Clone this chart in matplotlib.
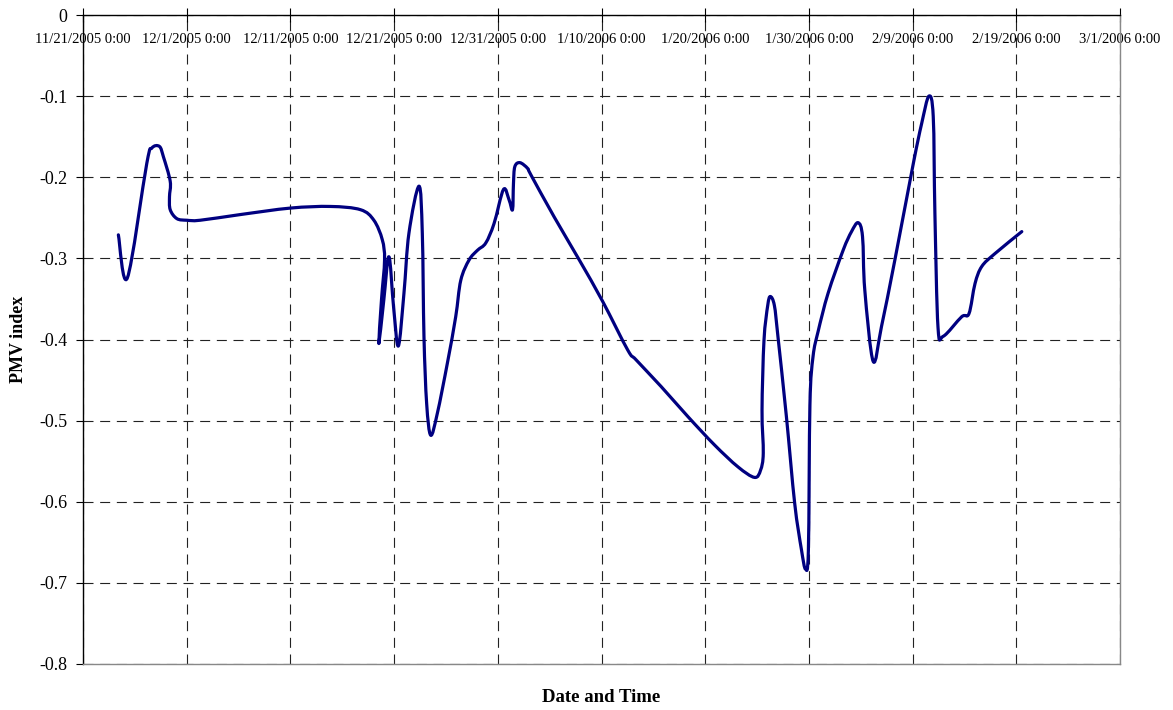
import matplotlib
matplotlib.use("Agg")
import matplotlib.pyplot as plt
import matplotlib.dates as mdates
from matplotlib.path import Path
from matplotlib.patches import PathPatch
from matplotlib.ticker import FuncFormatter
import numpy as np
import pandas as pd

plt.rcParams["font.family"] = ["Liberation Serif", "DejaVu Serif"]
plt.rcParams["axes.unicode_minus"] = False

START = "2005-11-21"
END = "2006-03-01"

# days after START
days = [3.41, 4.28, 6.15, 6.64, 7.37, 7.76, 8.41, 8.34, 8.41, 9.05, 10.02, 11.30,
        15.17, 20.00, 23.86, 26.76, 28.05, 28.86, 29.08, 28.79, 28.53, 29.01, 29.50,
        29.95, 30.41, 30.95, 31.43, 32.40, 32.72, 32.88, 33.14, 33.53, 34.17, 35.14,
        35.94, 36.43, 37.23, 38.04, 38.84, 39.64, 40.55, 41.09, 41.42, 41.51, 41.64,
        42.13, 42.87, 43.19, 45.44, 47.86, 50.11, 52.53, 53.33, 55.75, 58.33, 60.90,
        63.16, 64.76, 65.34, 65.60, 65.48, 65.67, 66.03, 66.28, 66.67, 67.02, 67.83,
        68.63, 69.28, 69.67, 69.95, 70.10, 70.40, 70.89, 71.85, 73.30, 74.11, 74.75,
        75.17, 75.39, 76.20, 77.00, 78.29, 80.07, 80.87, 81.57, 81.99, 82.15, 82.45,
        82.96, 84.73, 85.44, 86.02, 86.67, 87.95, 90.53]
pmv = [-0.271, -0.324, -0.183, -0.164, -0.162, -0.175, -0.205, -0.224, -0.240, -0.251,
       -0.253, -0.253, -0.246, -0.238, -0.236, -0.240, -0.253, -0.277, -0.302, -0.350,
       -0.405, -0.351, -0.298, -0.360, -0.408, -0.343, -0.269, -0.211, -0.269, -0.396,
       -0.479, -0.518, -0.491, -0.429, -0.372, -0.327, -0.302, -0.290, -0.281, -0.257,
       -0.215, -0.228, -0.240, -0.208, -0.187, -0.182, -0.189, -0.197, -0.249, -0.302,
       -0.353, -0.413, -0.425, -0.458, -0.495, -0.530, -0.557, -0.570, -0.561, -0.540,
       -0.487, -0.401, -0.358, -0.347, -0.358, -0.397, -0.495, -0.602, -0.659, -0.683,
       -0.660, -0.480, -0.421, -0.390, -0.343, -0.290, -0.267, -0.256, -0.273, -0.339,
       -0.427, -0.384, -0.302, -0.183, -0.134, -0.100, -0.125, -0.244, -0.385, -0.396,
       -0.372, -0.368, -0.331, -0.310, -0.294, -0.267]

yticks = [0, -0.1, -0.2, -0.3, -0.4, -0.5, -0.6, -0.7, -0.8]

dates = pd.Timestamp(START) + pd.to_timedelta(days, unit="D")
xticks = pd.date_range(START, END, freq="10D")

fig = plt.figure(figsize=(11.73, 7.10), dpi=100)
ax = fig.add_axes([83 / 1173, 1 - 664 / 710, (1120 - 83) / 1173, (664 - 15) / 710])

# smoothed line like a spreadsheet "smooth" series: Bezier through the points
pts = np.column_stack([mdates.date2num(dates.to_pydatetime()), pmv])
ext = np.vstack([pts[:1], pts, pts[-1:]])
verts = [pts[0]]
codes = [Path.MOVETO]
for i in range(1, len(ext) - 2):
    c1 = ext[i] + (ext[i + 1] - ext[i - 1]) / 6
    c2 = ext[i + 1] - (ext[i + 2] - ext[i]) / 6
    verts += [c1, c2, ext[i + 1]]
    codes += [Path.CURVE4] * 3
ax.add_patch(PathPatch(Path(verts, codes), fill=False, edgecolor="#000080", lw=2.3,
                       joinstyle="round", capstyle="round", zorder=3))

ax.set_xlim(pd.Timestamp(START), pd.Timestamp(END))
ax.set_ylim(-0.8, 0)
ax.set_xticks(mdates.date2num(xticks.to_pydatetime()))
ax.set_yticks(yticks)


def date_label(v, pos):
    d = mdates.num2date(v)
    return f"{d.month}/{d.day}/{d.year} 0:00"


ax.xaxis.set_major_formatter(FuncFormatter(date_label))
ax.yaxis.set_major_formatter(FuncFormatter(lambda v, p: "0" if abs(v) < 1e-9 else f"{v:.1f}"))

ax.xaxis.tick_top()
ax.tick_params(axis="x", direction="inout", length=10, width=0.8, labelsize=10.5,
               pad=-27, colors="black")
ax.tick_params(axis="y", direction="out", length=5, width=0.8, labelsize=13, pad=6)

ax.grid(True, color="#222222", lw=0.8, linestyle=(0, (9, 6)))

ax.spines["left"].set_color("black")
ax.spines["top"].set_color("black")
ax.spines["right"].set_color("#888888")
ax.spines["bottom"].set_color("#888888")
for s in ax.spines.values():
    s.set_linewidth(1.0)

ax.set_ylabel("PMV index", fontsize=13, fontweight="bold")
ax.yaxis.set_label_coords((19 - 83) / 1037, 0.5)
ax.yaxis.label.set_va("center")

ax.xaxis.set_label_position("bottom")
ax.set_xlabel("Date and Time", fontsize=13.5, fontweight="bold")
ax.xaxis.set_label_coords(0.5, -(697 - 664) / 649)
ax.xaxis.label.set_va("center")

fig.savefig("out.png", dpi=100)
